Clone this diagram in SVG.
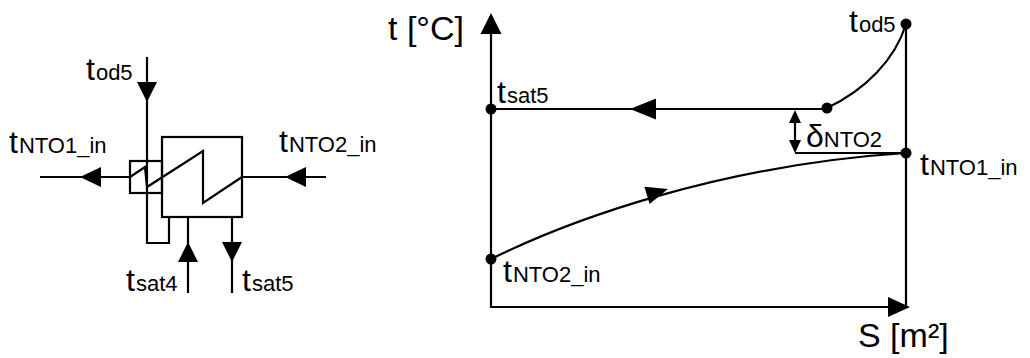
<svg xmlns="http://www.w3.org/2000/svg" width="1030" height="358" viewBox="0 0 1030 358">
<style>
.ln{fill:none;stroke:#000;stroke-width:2.2;stroke-linejoin:miter}
.ah{fill:#000;stroke:none}
.dot{fill:#000}
text{font-family:"Liberation Sans",Arial,sans-serif;fill:#000}
.t{font-size:32px}
.s{font-size:22px}
.d{font-size:32px}
.ax{font-size:34px}
</style>
<rect width="1030" height="358" fill="#fff"/>
<g id="connectors">
<polyline class="ln" points="147,57 147,243 169,243 169,217"/>
<line class="ln" x1="40" y1="177" x2="130" y2="177"/>
<line class="ln" x1="242" y1="177" x2="326" y2="177"/>
<line class="ln" x1="188" y1="217" x2="188" y2="293"/>
<line class="ln" x1="232" y1="217" x2="232" y2="293"/>
<polygon class="ah" points="147,102 137,82 157,82"/>
<polygon class="ah" points="80,177 101,167 101,187"/>
<polygon class="ah" points="285,177 306,167 306,187"/>
<polygon class="ah" points="188,242 178,262 198,262"/>
<polygon class="ah" points="232,262 222,242 242,242"/>
<polyline class="ln" points="491,30 491,307 900,307"/>
<polygon class="ah" points="491,13 480.5,34 501.5,34"/>
<polygon class="ah" points="910,307 888,297 888,317"/>
<line class="ln" x1="906" y1="24" x2="906" y2="307"/>
<line class="ln" x1="491" y1="109" x2="827" y2="109"/>
<polygon class="ah" points="630,109 656,98.5 656,119.5"/>
<path class="ln" d="M827,108 C865,90 895,60 906,24"/>
<line class="ln" x1="795" y1="153" x2="906" y2="153"/>
<path class="ln" d="M491,259 C570,220 720,165 906,153"/>
<polygon class="ah" points="668,189 649.6,204 644.4,186.8"/>
<line class="ln" x1="795" y1="115" x2="795" y2="148"/>
<polygon class="ah" points="795,110 789,123 801,123"/>
<polygon class="ah" points="795,153 789,140 801,140"/>
</g>
<g id="exchanger">
<rect class="ln" x="162" y="137" width="80" height="80"/>
<rect class="ln" x="130" y="161" width="32" height="32"/>
<polyline class="ln" points="130,177 145,167 147,187 203,151 203,203 242,177"/>
</g>
<g id="points">
<circle class="dot" cx="491" cy="109" r="5.5"/>
<circle class="dot" cx="827" cy="108" r="5.5"/>
<circle class="dot" cx="906" cy="24" r="5.5"/>
<circle class="dot" cx="906" cy="153" r="5.5"/>
<circle class="dot" cx="491" cy="259" r="5.5"/>
</g>
<g id="labels">
<text x="86" y="80"><tspan class="t">t</tspan><tspan class="s" dx="1">od5</tspan></text>
<text x="9" y="153"><tspan class="t">t</tspan><tspan class="s" dx="1">NTO1_in</tspan></text>
<text x="279" y="152"><tspan class="t">t</tspan><tspan class="s" dx="1">NTO2_in</tspan></text>
<text x="126" y="291"><tspan class="t">t</tspan><tspan class="s" dx="1">sat4</tspan></text>
<text x="242" y="291"><tspan class="t">t</tspan><tspan class="s" dx="1">sat5</tspan></text>
<text class="ax" x="388" y="40">t [°C]</text>
<text x="497" y="103"><tspan class="t">t</tspan><tspan class="s" dx="1">sat5</tspan></text>
<text x="849" y="32"><tspan class="t">t</tspan><tspan class="s" dx="1">od5</tspan></text>
<text x="920" y="175"><tspan class="t">t</tspan><tspan class="s" dx="1">NTO1_in</tspan></text>
<text x="503" y="282"><tspan class="t">t</tspan><tspan class="s" dx="1">NTO2_in</tspan></text>
<text x="806" y="147"><tspan class="d">δ</tspan><tspan class="s" dx="0">NTO2</tspan></text>
<text class="ax" x="858" y="347">S [m²]</text>
</g>
</svg>
